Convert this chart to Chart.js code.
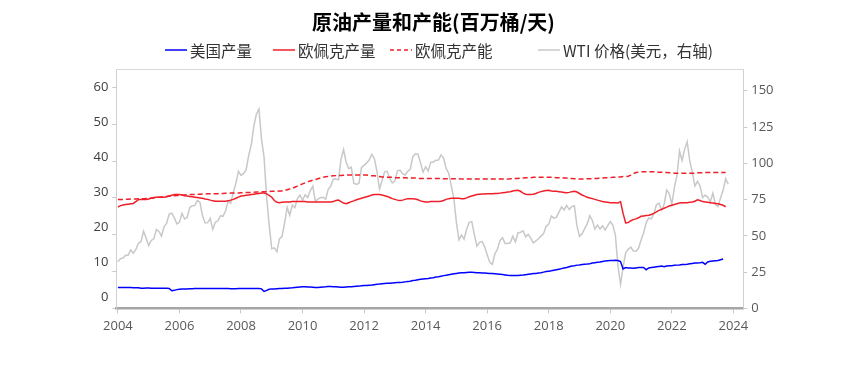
<!DOCTYPE html>
<html lang="zh-CN">
<head>
<meta charset="utf-8">
<title>原油产量和产能</title>
<script src="https://cdn.jsdelivr.net/npm/chart.js@4.4.1/dist/chart.umd.min.js"></script>
<style>
  body { margin: 0; background: #fff; }
  #wrap { position: relative; width: 853px; height: 377px; }
  #legend { position: absolute; left: 0; top: 40px; width: 853px; height: 20px;
            font-family: "Noto Sans CJK SC", sans-serif; font-size: 15.5px; color: #333; }
  .item { position: absolute; top: 0; height: 20px; line-height: 20px; white-space: nowrap;
          display: flex; align-items: center; }
  .item svg { margin-right: 3px; }
</style>
</head>
<body>
<div id="wrap">
  <canvas id="chart" width="853" height="377"></canvas>
  <div id="legend"></div>
</div>
<script>
// 月度数据, 第一个点为 2003-12 月末, 之后每月一个点
const firstMonthEnd = 2004;

// 美国原油产量 (百万桶/天), 2003-12 ~ 2023-08
const usProd = [
  5.7,
  5.7, 5.7, 5.7, 5.65, 5.65, 5.6, 5.6, 5.6, 5.45, 5.5, 5.55, 5.55,        // 2004
  5.5, 5.5, 5.5, 5.5, 5.5, 5.5, 5.45, 5.4, 4.8, 4.9, 5.1, 5.2,            // 2005
  5.25, 5.3, 5.3, 5.35, 5.35, 5.4, 5.4, 5.4, 5.4, 5.4, 5.4, 5.4,          // 2006
  5.4, 5.4, 5.4, 5.4, 5.4, 5.4, 5.4, 5.35, 5.35, 5.35, 5.4, 5.4,          // 2007
  5.4, 5.4, 5.4, 5.4, 5.4, 5.4, 5.4, 5.3, 4.6, 4.9, 5.2, 5.3,             // 2008
  5.3, 5.35, 5.4, 5.4, 5.45, 5.5, 5.55, 5.6, 5.7, 5.75, 5.8, 5.85,        // 2009
  5.85, 5.8, 5.8, 5.75, 5.7, 5.7, 5.75, 5.8, 5.85, 5.95, 5.95, 5.9,       // 2010
  5.85, 5.8, 5.75, 5.75, 5.8, 5.85, 5.9, 5.95, 6.0, 6.05, 6.15, 6.2,      // 2011
  6.25, 6.3, 6.35, 6.45, 6.55, 6.6, 6.7, 6.75, 6.8, 6.85, 6.9, 6.95,      // 2012
  7.0, 7.05, 7.1, 7.2, 7.3, 7.4, 7.55, 7.65, 7.8, 7.9, 8.0, 8.05,         // 2013
  8.1, 8.25, 8.35, 8.5, 8.6, 8.75, 8.9, 9.0, 9.15, 9.3, 9.4, 9.5,         // 2014
  9.6, 9.65, 9.7, 9.75, 9.8, 9.8, 9.75, 9.7, 9.65, 9.6, 9.6, 9.55,        // 2015
  9.5, 9.45, 9.4, 9.35, 9.3, 9.2, 9.1, 9.0, 8.95, 8.9, 8.9, 8.95,         // 2016
  9.0, 9.05, 9.15, 9.25, 9.35, 9.45, 9.5, 9.6, 9.7, 9.85, 10.0, 10.1,     // 2017
  10.2, 10.35, 10.5, 10.65, 10.8, 10.95, 11.1, 11.3, 11.5, 11.6, 11.75, 11.8, // 2018
  11.9, 12.0, 12.05, 12.15, 12.3, 12.4, 12.5, 12.6, 12.75, 12.9, 12.95, 13.0, // 2019
  13.0, 13.05, 13.0, 12.7, 10.7, 11.1, 11.0, 11.0, 10.9, 11.0, 11.1, 11.1,    // 2020
  11.1, 10.5, 11.0, 11.1, 11.2, 11.3, 11.4, 11.5, 11.3, 11.5, 11.6, 11.6,     // 2021
  11.7, 11.75, 11.8, 11.9, 11.95, 12.0, 12.1, 12.2, 12.3, 12.35, 12.4, 12.5,  // 2022
  12.0, 12.6, 12.8, 12.9, 12.95, 13.0, 13.2, 13.4                             // 2023
];

// 欧佩克原油产量, 2003-12 ~ 2023-09
const opecProd = [
  27.5,
  27.9, 28.1, 28.2, 28.3, 28.4, 28.5, 29.0, 29.5, 29.6, 29.6, 29.6, 29.7,     // 2004
  29.9, 30.1, 30.2, 30.2, 30.2, 30.2, 30.3, 30.5, 30.7, 30.9, 30.9, 30.9,     // 2005
  30.8, 30.6, 30.5, 30.4, 30.3, 30.2, 30.1, 30.0, 29.9, 29.7, 29.6, 29.4,     // 2006
  29.2, 29.1, 29.1, 29.1, 29.1, 29.1, 29.2, 29.4, 29.6, 29.9, 30.2, 30.5,     // 2007
  30.6, 30.7, 30.8, 30.9, 31.0, 31.1, 31.2, 31.3, 31.3, 31.1, 30.7, 30.2,     // 2008
  29.3, 28.8, 28.7, 28.8, 28.9, 28.9, 28.9, 29.0, 29.0, 29.0, 29.0, 29.0,     // 2009
  29.0, 28.9, 28.9, 28.9, 28.9, 28.9, 28.9, 28.9, 28.9, 28.9, 28.9, 29.0,     // 2010
  29.3, 29.4, 29.0, 28.6, 28.4, 28.7, 29.0, 29.2, 29.5, 29.7, 29.9, 30.1,     // 2011
  30.3, 30.5, 30.8, 30.9, 30.9, 30.9, 30.8, 30.6, 30.4, 30.1, 29.8, 29.6,     // 2012
  29.4, 29.3, 29.4, 29.6, 29.8, 29.8, 29.8, 29.7, 29.5, 29.2, 29.0, 28.9,     // 2013
  28.9, 29.0, 29.0, 29.0, 29.0, 29.1, 29.3, 29.6, 29.8, 29.9, 29.9, 29.9,     // 2014
  29.9, 29.8, 29.8, 30.0, 30.3, 30.5, 30.7, 30.9, 31.0, 31.05, 31.05, 31.1,   // 2015
  31.1, 31.1, 31.2, 31.2, 31.3, 31.4, 31.5, 31.6, 31.7, 31.9, 32.0, 32.05,    // 2016
  31.8, 31.3, 31.0, 30.9, 30.9, 31.0, 31.2, 31.5, 31.7, 31.9, 32.0, 32.05,    // 2017
  31.9, 31.8, 31.8, 31.7, 31.6, 31.5, 31.4, 31.5, 31.7, 31.8, 31.6, 31.2,     // 2018
  30.8, 30.5, 30.2, 30.0, 29.8, 29.6, 29.4, 29.2, 29.0, 28.9, 28.8, 28.7,     // 2019
  28.7, 28.7, 28.6, 29.0, 25.8, 23.2, 23.3, 23.8, 24.1, 24.3, 24.6, 25.0,     // 2020
  25.1, 25.2, 25.3, 25.5, 25.8, 26.2, 26.6, 26.9, 27.2, 27.5, 27.8, 28.0,     // 2021
  28.2, 28.4, 28.6, 28.7, 28.7, 28.7, 28.8, 28.9, 29.1, 29.5, 29.3, 29.0,     // 2022
  28.9, 28.8, 28.7, 28.6, 28.5, 28.4, 28.2, 28.0, 27.6                        // 2023
];

// 欧佩克产能, 2003-12 ~ 2023-09
const opecCap = [
  29.6,
  29.6, 29.6, 29.6, 29.65, 29.7, 29.7, 29.7, 29.75, 29.8, 29.8, 29.85, 29.9,      // 2004
  29.95, 30.0, 30.1, 30.2, 30.25, 30.3, 30.4, 30.5, 30.55, 30.6, 30.65, 30.7,     // 2005
  30.75, 30.8, 30.85, 30.9, 30.9, 30.95, 31.0, 31.0, 31.05, 31.05, 31.1, 31.1,    // 2006
  31.1, 31.15, 31.15, 31.2, 31.2, 31.25, 31.25, 31.3, 31.3, 31.35, 31.35, 31.4,   // 2007
  31.4, 31.45, 31.5, 31.5, 31.55, 31.6, 31.6, 31.65, 31.7, 31.7, 31.75, 31.8,     // 2008
  31.8, 31.8, 31.85, 31.9, 32.0, 32.2, 32.4, 32.6, 32.9, 33.2, 33.5, 33.8,        // 2009
  34.1, 34.4, 34.6, 34.8, 35.0, 35.2, 35.4, 35.6, 35.75, 35.85, 35.95, 36.0,      // 2010
  36.05, 36.1, 36.1, 36.15, 36.2, 36.2, 36.2, 36.2, 36.2, 36.2, 36.2, 36.2,       // 2011
  36.2, 36.1, 36.0, 36.0, 35.9, 35.8, 35.7, 35.7, 35.6, 35.6, 35.6, 35.5,         // 2012
  35.5, 35.5, 35.5, 35.5, 35.4, 35.4, 35.4, 35.4, 35.3, 35.3, 35.3, 35.3,         // 2013
  35.3, 35.3, 35.3, 35.3, 35.3, 35.3, 35.2, 35.2, 35.2, 35.2, 35.2, 35.2,         // 2014
  35.2, 35.1, 35.1, 35.1, 35.1, 35.1, 35.1, 35.1, 35.1, 35.1, 35.1, 35.1,         // 2015
  35.1, 35.1, 35.1, 35.1, 35.1, 35.1, 35.1, 35.1, 35.2, 35.2, 35.3, 35.3,         // 2016
  35.4, 35.4, 35.5, 35.5, 35.5, 35.6, 35.6, 35.6, 35.6, 35.6, 35.6, 35.6,         // 2017
  35.6, 35.6, 35.5, 35.5, 35.5, 35.4, 35.4, 35.3, 35.3, 35.2, 35.2, 35.1,         // 2018
  35.1, 35.1, 35.2, 35.2, 35.2, 35.3, 35.3, 35.4, 35.4, 35.5, 35.5, 35.5,         // 2019
  35.6, 35.6, 35.7, 35.7, 35.8, 35.8, 35.9, 36.2, 36.6, 36.9, 37.0, 37.1,         // 2020
  37.1, 37.1, 37.1, 37.1, 37.1, 37.0, 37.0, 37.0, 36.9, 36.9, 36.8, 36.8,         // 2021
  36.7, 36.7, 36.7, 36.7, 36.7, 36.7, 36.7, 36.7, 36.7, 36.8, 36.8, 36.8,         // 2022
  36.9, 36.9, 36.9, 36.9, 36.9, 36.9, 36.9, 36.9, 36.9                            // 2023
];

// WTI 月均价 (美元/桶), 2003-12 ~ 2023-10
const wti = [
  32.1,
  34.3, 34.7, 36.7, 36.7, 40.3, 38.0, 40.7, 44.9, 45.9, 53.1, 48.5, 43.3,          // 2004
  46.8, 48.0, 54.3, 53.0, 49.8, 56.3, 58.7, 65.0, 65.6, 62.4, 58.3, 59.4,          // 2005
  65.5, 61.6, 62.7, 69.4, 70.8, 70.9, 74.4, 73.0, 63.8, 58.9, 59.1, 62.0,          // 2006
  54.5, 59.3, 60.4, 63.9, 63.4, 67.5, 74.1, 72.4, 79.9, 86.2, 94.6, 91.7,          // 2007
  93.0, 95.4, 105.5, 112.6, 125.4, 133.9, 137.5, 116.7, 104.1, 76.6, 57.3, 41.1,   // 2008
  41.7, 39.1, 47.9, 49.7, 59.0, 69.6, 64.2, 71.1, 69.4, 75.7, 78.0, 74.5,          // 2009
  78.3, 76.4, 81.2, 84.3, 73.7, 75.3, 76.3, 76.6, 75.2, 81.9, 84.3, 89.2,          // 2010
  89.2, 88.6, 102.9, 109.5, 100.9, 96.3, 97.3, 86.3, 85.5, 86.3, 97.2, 98.6,       // 2011
  100.3, 102.2, 106.2, 103.3, 94.7, 82.3, 87.9, 94.1, 94.5, 89.5, 86.5, 87.9,      // 2012
  94.8, 95.3, 92.9, 92.0, 94.5, 95.8, 104.6, 106.6, 106.3, 100.5, 93.9, 97.6,      // 2013
  94.6, 100.8, 100.8, 102.1, 102.2, 105.8, 103.6, 96.5, 93.2, 84.4, 75.8, 59.3,    // 2014
  47.2, 50.6, 47.8, 54.5, 59.3, 59.8, 50.9, 42.9, 45.5, 46.2, 42.4, 37.2,          // 2015
  31.7, 30.3, 37.5, 40.8, 46.7, 48.8, 44.7, 44.7, 45.2, 49.8, 45.7, 52.0,          // 2016
  52.5, 53.5, 49.3, 51.1, 48.5, 45.2, 46.6, 48.0, 49.8, 51.6, 56.6, 57.9,          // 2017
  63.7, 62.2, 62.7, 66.3, 70.0, 67.9, 71.0, 68.1, 70.2, 70.8, 57.0, 49.5,          // 2018
  51.4, 55.0, 58.2, 63.9, 60.8, 54.7, 57.4, 54.8, 57.0, 54.0, 57.0, 59.9,          // 2019
  57.5, 50.5, 29.2, 16.6, 28.5, 38.3, 40.7, 42.3, 39.6, 39.4, 41.4, 47.0,          // 2020
  52.0, 59.0, 62.3, 61.7, 65.2, 71.4, 72.5, 67.7, 71.6, 81.5, 79.2, 71.7,          // 2021
  83.2, 91.6, 108.5, 101.8, 109.6, 114.8, 101.6, 93.7, 84.3, 87.6, 84.4, 76.4,     // 2022
  78.1, 76.8, 73.3, 79.4, 71.6, 70.3, 76.0, 81.4, 89.4, 85.6                       // 2023
];

const yearTicks = [2004, 2006, 2008, 2010, 2012, 2014, 2016, 2018, 2020, 2022, 2024];
const leftTicks = [0, 10, 20, 30, 40, 50, 60];
const rightTicks = [0, 25, 50, 75, 100, 125, 150];

const seriesNames = ['美国产量', '欧佩克产量', '欧佩克产能', 'WTI 价格(美元，右轴)'];

// 月末时间点 (小数年)
const monthEnds = [];
for (let i = 0; i < wti.length; i++) monthEnds.push(firstMonthEnd + i / 12);

function toPoints(values) {
  return values.map((v, i) => ({ x: monthEnds[i], y: v }));
}

const numFont = { family: 'Open Sans', size: 13 };
const setTicks = list => scale => { scale.ticks = list.map(v => ({ value: v })); };

// 图框顶边
const frameTop = {
  id: 'frameTop',
  beforeDatasetsDraw(chart) {
    const { ctx, chartArea } = chart;
    ctx.save();
    ctx.strokeStyle = '#d9d9d9';
    ctx.lineWidth = 1;
    ctx.beginPath();
    ctx.moveTo(chartArea.left, chartArea.top + 0.5);
    ctx.lineTo(chartArea.right, chartArea.top + 0.5);
    ctx.stroke();
    ctx.restore();
  }
};

const red = '#f01e28';

const chart = new Chart(document.getElementById('chart'), {
  type: 'line',
  data: {
    datasets: [
      { label: seriesNames[0], data: toPoints(usProd), yAxisID: 'y', borderColor: '#0000ff', borderWidth: 1.5 },
      { label: seriesNames[1], data: toPoints(opecProd), yAxisID: 'y', borderColor: red, borderWidth: 1.5 },
      { label: seriesNames[2], data: toPoints(opecCap), yAxisID: 'y', borderColor: red, borderWidth: 1.5, borderDash: [5, 3] },
      { label: seriesNames[3], data: toPoints(wti), yAxisID: 'y2', borderColor: '#c8c8c8', borderWidth: 1.5 }
    ]
  },
  options: {
    responsive: false,
    devicePixelRatio: 1,
    animation: false,
    events: [],
    elements: { point: { radius: 0 }, line: { tension: 0, fill: false } },
    layout: { padding: { left: 89.5, right: 75.5, top: 0, bottom: 38 } },
    plugins: {
      legend: { display: false },
      tooltip: { enabled: false },
      title: {
        display: true,
        text: '原油产量和产能(百万桶/天)',
        color: '#000',
        font: { family: 'Noto Sans CJK SC', size: 20, weight: 'bold' },
        padding: { top: 10, bottom: 35 }
      }
    },
    scales: {
      x: {
        type: 'linear',
        min: 2003.95,
        max: 2024.32,
        afterBuildTicks: setTicks(yearTicks),
        ticks: { callback: v => String(v), color: '#595959', font: numFont, padding: 5, maxRotation: 0, autoSkip: false },
        grid: { drawOnChartArea: false, drawTicks: true, tickLength: 5, color: '#c8c8c8' },
        border: { color: '#a6a6a6', width: 2.5 }
      },
      y: {
        position: 'left',
        weight: 0,
        min: 0,
        max: 65,
        afterBuildTicks: setTicks(leftTicks),
        ticks: { display: false },
        grid: { drawOnChartArea: false, drawTicks: true, tickLength: 4, color: '#c8c8c8' },
        border: { color: '#d0d0d0' }
      },
      yLabels: {
        position: 'left',
        weight: 1,
        min: -3.32,
        max: 65.39,
        afterBuildTicks: setTicks(leftTicks),
        ticks: { color: '#404040', font: numFont, padding: 4 },
        grid: { display: false, drawTicks: false },
        border: { display: false }
      },
      y2: {
        position: 'right',
        min: 0,
        max: 165,
        afterBuildTicks: setTicks(rightTicks),
        ticks: { color: '#595959', font: numFont, padding: 4 },
        grid: { drawOnChartArea: false, drawTicks: true, tickLength: 4, color: '#c8c8c8' },
        border: { color: '#d0d0d0' }
      }
    }
  },
  plugins: [frameTop]
});

// 图例 (HTML)
const legendLefts = [165, 273, 390, 538];
const legendEl = document.getElementById('legend');
chart.data.datasets.forEach((ds, i) => {
  const item = document.createElement('div');
  item.className = 'item';
  item.style.left = legendLefts[i] + 'px';
  const dash = ds.borderDash ? 'stroke-dasharray="4 3"' : '';
  item.innerHTML = '<svg width="22" height="4"><line x1="0" y1="2" x2="22" y2="2" stroke="' +
    ds.borderColor + '" stroke-width="1.5" ' + dash + '/></svg><span>' + ds.label + '</span>';
  legendEl.appendChild(item);
});
</script>
</body>
</html>
